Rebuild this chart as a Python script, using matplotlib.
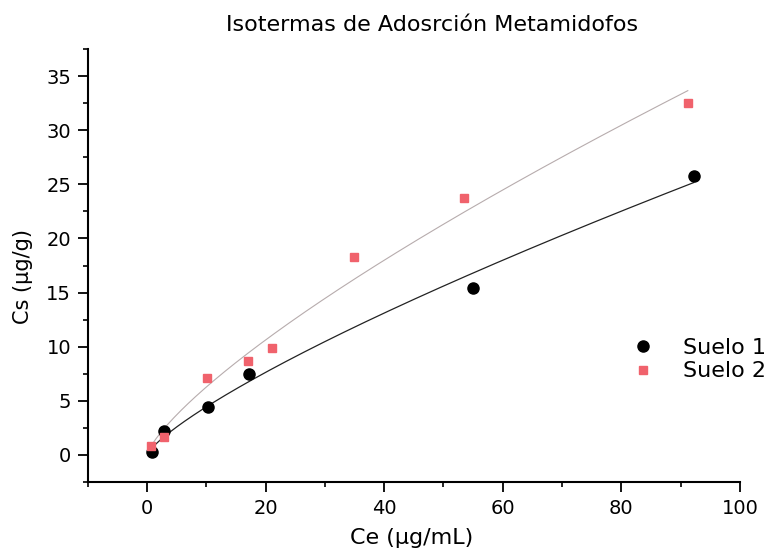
import numpy as np
import matplotlib
matplotlib.use("Agg")
import matplotlib.pyplot as plt
from matplotlib.ticker import MultipleLocator

plt.rcParams['font.family'] = ['DejaVu Sans']

# Measured adsorption data (Ce in µg/mL, Cs in µg/g)
ce_suelo1 = [0.8, 2.8, 10.3, 17.2, 55.0, 92.2]
cs_suelo1 = [0.25, 2.2, 4.4, 7.45, 15.4, 25.8]
ce_suelo2 = [0.6, 2.8, 10.2, 17.0, 21.0, 34.9, 53.4, 91.2]
cs_suelo2 = [0.8, 1.7, 7.1, 8.7, 9.85, 18.25, 23.7, 32.5]

# Freundlich fit parameters: Cs = K * Ce**(1/n)
k_suelo1, inv_n_suelo1 = 0.735, 0.781
k_suelo2, inv_n_suelo2 = 1.09, 0.76

labels = ["Suelo 1", "Suelo 2"]
title = "Isotermas de Adosrción Metamidofos"

W, H = 767, 550
fig = plt.figure(figsize=(W / 100, H / 100), dpi=100)
ax = fig.add_axes([87.7 / W, 1 - 482 / H, (740 - 87.7) / W, (482 - 49) / H])

def freundlich(ce, k, inv_n):
    return k * np.power(ce, inv_n)

x1 = np.linspace(min(ce_suelo1), max(ce_suelo1), 300)
x2 = np.linspace(min(ce_suelo2), max(ce_suelo2), 300)
ax.plot(x1, freundlich(x1, k_suelo1, inv_n_suelo1), color="#222222", lw=0.9, zorder=2)
ax.plot(x2, freundlich(x2, k_suelo2, inv_n_suelo2), color="#b7acad", lw=0.8, zorder=2)

ax.plot(ce_suelo1, cs_suelo1, linestyle="none", marker="o", ms=8,
        color="black", label=labels[0], zorder=3)
ax.plot(ce_suelo2, cs_suelo2, linestyle="none", marker="s", ms=6,
        color="#f0626c", label=labels[1], zorder=4)

ax.set_xlim(-10, 100)
ax.set_ylim(-2.5, 37.5)
ax.xaxis.set_major_locator(MultipleLocator(20))
ax.xaxis.set_minor_locator(MultipleLocator(10))
ax.yaxis.set_major_locator(MultipleLocator(5))
ax.yaxis.set_minor_locator(MultipleLocator(2.5))

for side in ("top", "right"):
    ax.spines[side].set_visible(False)
for side in ("left", "bottom"):
    ax.spines[side].set_linewidth(1.5)

ax.tick_params(which="major", direction="out", length=7, width=1.3,
               labelsize=14, pad=5)
ax.tick_params(which="minor", direction="out", length=3.6, width=1.2)

fig.text(412 / W, 1 - 538 / H, "Ce (µg/mL)", ha="center", va="center", fontsize=16)
fig.text(23 / W, 1 - 276 / H, "Cs (µg/g)", ha="center", va="center",
         rotation=90, fontsize=15)
fig.text(432 / W, 1 - 25 / H, title, ha="center", va="center", fontsize=16)

ax.legend(loc="upper left", bbox_to_anchor=(633.3 / W, 1 - 338 / H),
          bbox_transform=fig.transFigure, frameon=False, fontsize=16,
          handlelength=0.9, handletextpad=1.35, labelspacing=0.15,
          borderpad=0, borderaxespad=0, numpoints=1)

fig.savefig("out.png", dpi=100)
